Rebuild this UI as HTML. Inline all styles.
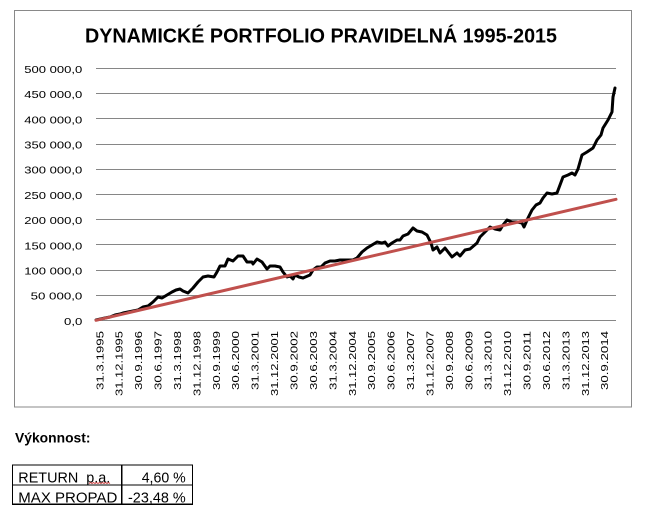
<!DOCTYPE html>
<html>
<head>
<meta charset="utf-8">
<style>
html,body{margin:0;padding:0;background:#fff;}
svg{display:block;}
</style>
</head>
<body>
<svg width="656" height="522" viewBox="0 0 656 522" xmlns="http://www.w3.org/2000/svg">
<rect x="0" y="0" width="656" height="522" fill="#fff"/>
<rect x="14.5" y="10.5" width="617" height="396.5" fill="#fff" stroke="#898989" stroke-width="1"/>
<text x="85" y="42.7" font-family="Liberation Sans, Arial, sans-serif" font-weight="bold" font-size="20" textLength="472" lengthAdjust="spacingAndGlyphs" fill="#000">DYNAMICKÉ PORTFOLIO PRAVIDELNÁ 1995-2015</text>

<g stroke="#868686" stroke-width="1" shape-rendering="crispEdges">
<line x1="96" y1="68.5" x2="616" y2="68.5"/>
<line x1="96" y1="93.5" x2="616" y2="93.5"/>
<line x1="96" y1="118.5" x2="616" y2="118.5"/>
<line x1="96" y1="144.5" x2="616" y2="144.5"/>
<line x1="96" y1="169.5" x2="616" y2="169.5"/>
<line x1="96" y1="194.5" x2="616" y2="194.5"/>
<line x1="96" y1="219.5" x2="616" y2="219.5"/>
<line x1="96" y1="244.5" x2="616" y2="244.5"/>
<line x1="96" y1="270.5" x2="616" y2="270.5"/>
<line x1="96" y1="295.5" x2="616" y2="295.5"/>
<line x1="96" y1="320.5" x2="616" y2="320.5"/>
</g>

<g font-family="Liberation Sans, Arial, sans-serif" font-size="10.5" fill="#000" text-anchor="end">
<text x="82.3" y="72.9" textLength="58" lengthAdjust="spacingAndGlyphs">500 000,0</text>
<text x="82.3" y="98.1" textLength="58" lengthAdjust="spacingAndGlyphs">450 000,0</text>
<text x="82.3" y="123.3" textLength="58" lengthAdjust="spacingAndGlyphs">400 000,0</text>
<text x="82.3" y="148.5" textLength="58" lengthAdjust="spacingAndGlyphs">350 000,0</text>
<text x="82.3" y="173.7" textLength="58" lengthAdjust="spacingAndGlyphs">300 000,0</text>
<text x="82.3" y="198.9" textLength="58" lengthAdjust="spacingAndGlyphs">250 000,0</text>
<text x="82.3" y="224.1" textLength="58" lengthAdjust="spacingAndGlyphs">200 000,0</text>
<text x="82.3" y="249.3" textLength="58" lengthAdjust="spacingAndGlyphs">150 000,0</text>
<text x="82.3" y="274.5" textLength="58" lengthAdjust="spacingAndGlyphs">100 000,0</text>
<text x="82.3" y="299.7" textLength="51.7" lengthAdjust="spacingAndGlyphs">50 000,0</text>
<text x="82.3" y="324.9" textLength="18.3" lengthAdjust="spacingAndGlyphs">0,0</text>
</g>

<g font-family="Liberation Sans, Arial, sans-serif" font-size="10.5" fill="#000" text-anchor="end">
<text transform="translate(103.3,331) rotate(-90)" textLength="59" lengthAdjust="spacingAndGlyphs">31.3.1995</text>
<text transform="translate(122.7,331) rotate(-90)" textLength="65" lengthAdjust="spacingAndGlyphs">31.12.1995</text>
<text transform="translate(142.1,331) rotate(-90)" textLength="59" lengthAdjust="spacingAndGlyphs">30.9.1996</text>
<text transform="translate(161.6,331) rotate(-90)" textLength="59" lengthAdjust="spacingAndGlyphs">30.6.1997</text>
<text transform="translate(181.0,331) rotate(-90)" textLength="59" lengthAdjust="spacingAndGlyphs">31.3.1998</text>
<text transform="translate(200.4,331) rotate(-90)" textLength="65" lengthAdjust="spacingAndGlyphs">31.12.1998</text>
<text transform="translate(219.8,331) rotate(-90)" textLength="59" lengthAdjust="spacingAndGlyphs">30.9.1999</text>
<text transform="translate(239.2,331) rotate(-90)" textLength="59" lengthAdjust="spacingAndGlyphs">30.6.2000</text>
<text transform="translate(258.7,331) rotate(-90)" textLength="59" lengthAdjust="spacingAndGlyphs">31.3.2001</text>
<text transform="translate(278.1,331) rotate(-90)" textLength="65" lengthAdjust="spacingAndGlyphs">31.12.2001</text>
<text transform="translate(297.5,331) rotate(-90)" textLength="59" lengthAdjust="spacingAndGlyphs">30.9.2002</text>
<text transform="translate(316.9,331) rotate(-90)" textLength="59" lengthAdjust="spacingAndGlyphs">30.6.2003</text>
<text transform="translate(336.3,331) rotate(-90)" textLength="59" lengthAdjust="spacingAndGlyphs">31.3.2004</text>
<text transform="translate(355.8,331) rotate(-90)" textLength="65" lengthAdjust="spacingAndGlyphs">31.12.2004</text>
<text transform="translate(375.2,331) rotate(-90)" textLength="59" lengthAdjust="spacingAndGlyphs">30.9.2005</text>
<text transform="translate(394.6,331) rotate(-90)" textLength="59" lengthAdjust="spacingAndGlyphs">30.6.2006</text>
<text transform="translate(414.0,331) rotate(-90)" textLength="59" lengthAdjust="spacingAndGlyphs">31.3.2007</text>
<text transform="translate(433.4,331) rotate(-90)" textLength="65" lengthAdjust="spacingAndGlyphs">31.12.2007</text>
<text transform="translate(452.9,331) rotate(-90)" textLength="59" lengthAdjust="spacingAndGlyphs">30.9.2008</text>
<text transform="translate(472.3,331) rotate(-90)" textLength="59" lengthAdjust="spacingAndGlyphs">30.6.2009</text>
<text transform="translate(491.7,331) rotate(-90)" textLength="59" lengthAdjust="spacingAndGlyphs">31.3.2010</text>
<text transform="translate(511.1,331) rotate(-90)" textLength="65" lengthAdjust="spacingAndGlyphs">31.12.2010</text>
<text transform="translate(530.5,331) rotate(-90)" textLength="59" lengthAdjust="spacingAndGlyphs">30.9.2011</text>
<text transform="translate(550.0,331) rotate(-90)" textLength="59" lengthAdjust="spacingAndGlyphs">30.6.2012</text>
<text transform="translate(569.4,331) rotate(-90)" textLength="59" lengthAdjust="spacingAndGlyphs">31.3.2013</text>
<text transform="translate(588.8,331) rotate(-90)" textLength="65" lengthAdjust="spacingAndGlyphs">31.12.2013</text>
<text transform="translate(608.2,331) rotate(-90)" textLength="59" lengthAdjust="spacingAndGlyphs">30.9.2014</text>
</g>

<polyline fill="none" stroke="#000" stroke-width="3" stroke-linejoin="round" stroke-linecap="round" points="96,320 105,318 110,317 115,315 120,314 123,313 128,312 133,311 138,310 143,307 148,306 153,302 158,297 162,298 167,295 172,292 176,290 180,289 183,291 188,293 193,288 198,282 203,277 208,276 214,277 217,272 220,266 225,266 228,259 233,261 238,256 243,256 247,262 252,262 253,264 257,259 262,262 267,269 270,266 275,266 280,267 283,272 287,277 290,276 293,279 295,275 299,277 303,278 310,275 313,270 317,267 321,267 325,263 330,261 335,261 340,260 345,260 353,260 357,258 362,252 367,248 372,245 377,242 382,243 385,242 388,246 392,243 397,240 400,240 403,236 408,234 413,228 417,231 422,232 427,235 431,243 433,250 437,247 440,253 445,248 452,257 457,253 460,256 465,250 470,249 477,243 480,237 487,230 490,227 495,229 500,230 503,225 507,220 512,222 517,222 522,223 524,227 528,218 532,210 536,205 540,203 543,198 547,193 552,194 557,193 560,185 563,177 568,175 572,173 575,175 578,169 582,155 587,152 593,148 597,140 601,135 603,128 608,120 612,112 613,97 615,88"/>

<line x1="96" y1="320.3" x2="616" y2="199.3" stroke="#C0504D" stroke-width="3" stroke-linecap="round"/>

<text x="15" y="442.7" font-family="Liberation Sans, Arial, sans-serif" font-weight="bold" font-size="13.5" textLength="75.5" lengthAdjust="spacingAndGlyphs" fill="#000">Výkonnost:</text>

<g stroke="#000" stroke-width="1.2" fill="none" shape-rendering="crispEdges">
<rect x="12.5" y="465" width="180" height="39.3"/>
<line x1="12.5" y1="485" x2="192.5" y2="485"/>
<line x1="121.7" y1="465" x2="121.7" y2="504.3"/>
</g>
<g font-family="Liberation Sans, Arial, sans-serif" font-size="15" fill="#000">
<text x="18.3" y="482.7" textLength="92" lengthAdjust="spacingAndGlyphs" xml:space="preserve">RETURN  p.a.</text>
<text x="18.3" y="502.3" textLength="99" lengthAdjust="spacingAndGlyphs">MAX PROPAD</text>
<text x="185.7" y="482.7" text-anchor="end" textLength="44" lengthAdjust="spacingAndGlyphs">4,60 %</text>
<text x="185.7" y="502.3" text-anchor="end" textLength="57.7" lengthAdjust="spacingAndGlyphs">-23,48 %</text>
</g>
<path d="M89,483.5 l1.5,-1 l1.5,1 l1.5,-1 l1.5,1 l1.5,-1 l1.5,1 l1.5,-1 l1.5,1 l1.5,-1 l1.5,1 l1.5,-1 l1.5,1 l1.5,-1 l1.5,1" fill="none" stroke="#d03030" stroke-width="0.8"/>
</svg>
</body>
</html>
